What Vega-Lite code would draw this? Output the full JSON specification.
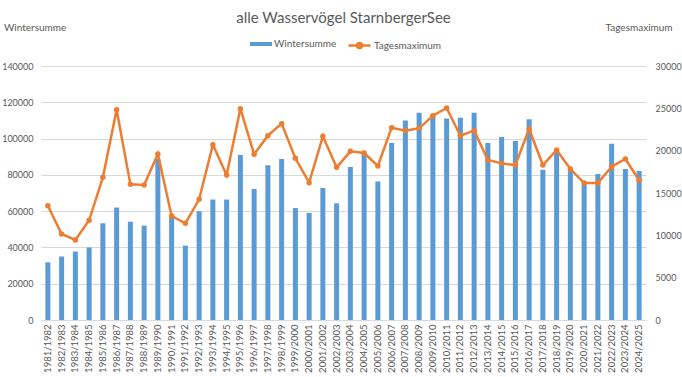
{
  "$schema": "https://vega.github.io/schema/vega-lite/v6.json",
  "width": 605,
  "height": 254,
  "autosize": {"type": "none"},
  "padding": {"left": 41, "top": 66, "right": 36, "bottom": 57},
  "background": "white",
  "title": {"text": "alle Wasservögel StarnbergerSee", "fontSize": 15, "fontWeight": "normal", "color": "#595959", "font": "Lato", "anchor": "middle", "frame": "group", "offset": -4},
  "data": {"values": [
    {"Saison": "1981/1982", "Wintersumme": 31800, "Tagesmaximum": 13500},
    {"Saison": "1982/1983", "Wintersumme": 35000, "Tagesmaximum": 10160},
    {"Saison": "1983/1984", "Wintersumme": 37700, "Tagesmaximum": 9450},
    {"Saison": "1984/1985", "Wintersumme": 40000, "Tagesmaximum": 11780},
    {"Saison": "1985/1986", "Wintersumme": 53300, "Tagesmaximum": 16850},
    {"Saison": "1986/1987", "Wintersumme": 62000, "Tagesmaximum": 24840},
    {"Saison": "1987/1988", "Wintersumme": 54200, "Tagesmaximum": 16020},
    {"Saison": "1988/1989", "Wintersumme": 52000, "Tagesmaximum": 15950},
    {"Saison": "1989/1990", "Wintersumme": 88800, "Tagesmaximum": 19600},
    {"Saison": "1990/1991", "Wintersumme": 57300, "Tagesmaximum": 12280},
    {"Saison": "1991/1992", "Wintersumme": 41000, "Tagesmaximum": 11420},
    {"Saison": "1992/1993", "Wintersumme": 60000, "Tagesmaximum": 14250},
    {"Saison": "1993/1994", "Wintersumme": 66400, "Tagesmaximum": 20700},
    {"Saison": "1994/1995", "Wintersumme": 66400, "Tagesmaximum": 17130},
    {"Saison": "1995/1996", "Wintersumme": 91000, "Tagesmaximum": 24960},
    {"Saison": "1996/1997", "Wintersumme": 72200, "Tagesmaximum": 19570},
    {"Saison": "1997/1998", "Wintersumme": 85250, "Tagesmaximum": 21770},
    {"Saison": "1998/1999", "Wintersumme": 88700, "Tagesmaximum": 23190},
    {"Saison": "1999/2000", "Wintersumme": 61700, "Tagesmaximum": 19100},
    {"Saison": "2000/2001", "Wintersumme": 59000, "Tagesmaximum": 16220},
    {"Saison": "2001/2002", "Wintersumme": 72750, "Tagesmaximum": 21700},
    {"Saison": "2002/2003", "Wintersumme": 64300, "Tagesmaximum": 18030},
    {"Saison": "2003/2004", "Wintersumme": 84300, "Tagesmaximum": 19920},
    {"Saison": "2004/2005", "Wintersumme": 91300, "Tagesmaximum": 19720},
    {"Saison": "2005/2006", "Wintersumme": 76400, "Tagesmaximum": 18190},
    {"Saison": "2006/2007", "Wintersumme": 97550, "Tagesmaximum": 22720},
    {"Saison": "2007/2008", "Wintersumme": 110000, "Tagesmaximum": 22360},
    {"Saison": "2008/2009", "Wintersumme": 114300, "Tagesmaximum": 22640},
    {"Saison": "2009/2010", "Wintersumme": 112400, "Tagesmaximum": 24130},
    {"Saison": "2010/2011", "Wintersumme": 111000, "Tagesmaximum": 25040},
    {"Saison": "2011/2012", "Wintersumme": 111500, "Tagesmaximum": 21770},
    {"Saison": "2012/2013", "Wintersumme": 114300, "Tagesmaximum": 22360},
    {"Saison": "2013/2014", "Wintersumme": 97550, "Tagesmaximum": 18900},
    {"Saison": "2014/2015", "Wintersumme": 100900, "Tagesmaximum": 18500},
    {"Saison": "2015/2016", "Wintersumme": 98650, "Tagesmaximum": 18300},
    {"Saison": "2016/2017", "Wintersumme": 110600, "Tagesmaximum": 22560},
    {"Saison": "2017/2018", "Wintersumme": 82850, "Tagesmaximum": 18300},
    {"Saison": "2018/2019", "Wintersumme": 93000, "Tagesmaximum": 20080},
    {"Saison": "2019/2020", "Wintersumme": 82700, "Tagesmaximum": 17830},
    {"Saison": "2020/2021", "Wintersumme": 75500, "Tagesmaximum": 16180},
    {"Saison": "2021/2022", "Wintersumme": 80500, "Tagesmaximum": 16180},
    {"Saison": "2022/2023", "Wintersumme": 97200, "Tagesmaximum": 18110},
    {"Saison": "2023/2024", "Wintersumme": 83200, "Tagesmaximum": 19020},
    {"Saison": "2024/2025", "Wintersumme": 82100, "Tagesmaximum": 16500}
  ]},
  "encoding": {
    "x": {
      "field": "Saison", "type": "nominal", "sort": null, "title": null,
      "scale": {"paddingInner": 0, "paddingOuter": 0},
      "axis": {"labelAngle": -90, "labelAlign": "right", "labelBaseline": "middle", "labelPadding": 4, "labelFontSize": 9.5, "labelColor": "#595959", "ticks": false, "domain": true, "domainColor": "#D9D9D9", "domainWidth": 1, "grid": false, "labelOverlap": false}
    }
  },
  "layer": [
    {
      "mark": {"type": "bar", "size": 5},
      "encoding": {
        "y": {
          "field": "Wintersumme", "type": "quantitative",
          "scale": {"domain": [0, 140000], "nice": false},
          "axis": {"orient": "left", "values": [0, 20000, 40000, 60000, 80000, 100000, 120000, 140000], "format": "d", "ticks": false, "domain": false, "grid": true, "gridColor": "#D9D9D9", "gridWidth": 1, "labelFontSize": 9, "labelColor": "#595959", "labelPadding": 8,
            "title": "Wintersumme", "titleAngle": 0, "titleAlign": "left", "titleBaseline": "middle", "titleX": -37.5, "titleY": -39, "titleFontSize": 10, "titleFontWeight": "normal", "titleColor": "#595959"}
        },
        "fill": {
          "datum": "Wintersumme",
          "scale": {"range": ["#5B9BD5"]},
          "legend": {"orient": "none", "legendX": 209, "legendY": -33, "title": null, "symbolType": "M-1,-0.18H1V0.18H-1Z", "symbolSize": 484, "symbolStrokeWidth": 0, "labelFontSize": 10, "labelColor": "#595959", "labelOffset": 2}
        }
      }
    },
    {
      "encoding": {
        "y": {
          "field": "Tagesmaximum", "type": "quantitative",
          "scale": {"domain": [0, 30000], "nice": false},
          "axis": {"orient": "right", "values": [0, 5000, 10000, 15000, 20000, 25000, 30000], "format": "d", "ticks": false, "domain": false, "grid": false, "labelFontSize": 9, "labelColor": "#595959", "labelPadding": 9,
            "title": "Tagesmaximum", "titleAngle": 0, "titleAlign": "left", "titleBaseline": "middle", "titleX": -41, "titleY": -39, "titleFontSize": 10, "titleFontWeight": "normal", "titleColor": "#595959"}
        }
      },
      "layer": [
        {
          "mark": {"type": "line", "strokeWidth": 2.5},
          "encoding": {
            "stroke": {
              "datum": "Tagesmaximum",
              "scale": {"range": ["#ED7D31"]},
              "legend": {"orient": "none", "legendX": 306, "legendY": -33, "title": null, "symbolType": "M-1,0H1M-0.23,0A0.23,0.23,0,1,1,0.23,0A0.23,0.23,0,1,1,-0.23,0Z", "symbolSize": 484, "symbolStrokeWidth": 2.5, "symbolFillColor": "#ED7D31", "labelFontSize": 10, "labelColor": "#595959", "labelOffset": 2,
                "encode": {"symbols": {"update": {"fill": {"value": "#ED7D31"}}}}}
            }
          }
        },
        {
          "mark": {"type": "point", "filled": true, "size": 30, "color": "#ED7D31", "opacity": 1}
        }
      ]
    }
  ],
  "resolve": {"scale": {"y": "independent"}},
  "config": {
    "font": "Lato",
    "view": {"stroke": null}
  }
}
